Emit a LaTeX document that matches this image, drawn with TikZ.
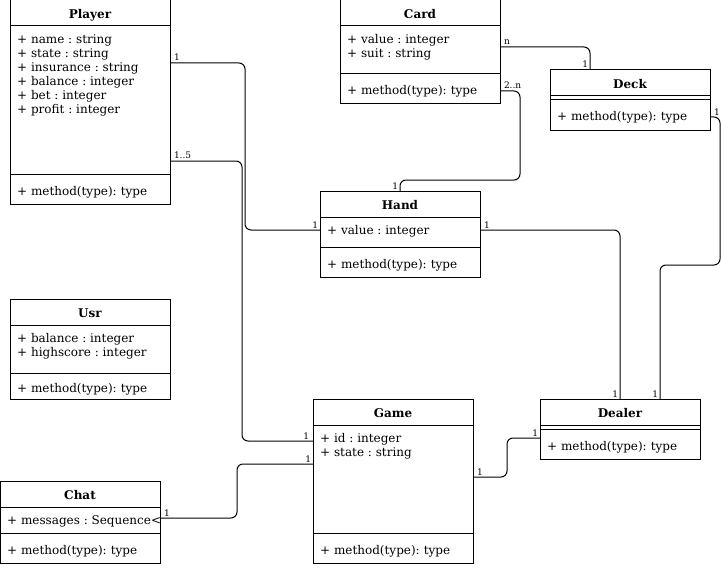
\documentclass[tikz,border=0pt]{standalone}
\usepackage{fontspec}
\setmainfont{DejaVu Serif}
\usepackage{tikz}
\usetikzlibrary{positioning, calc}
\frenchspacing

\begin{document}
\begin{tikzpicture}[
    x=1pt, y=-1pt,
    head/.style={draw, line width=1pt, minimum width=160pt, minimum height=26pt,
                 anchor=north west, inner sep=0pt, outer sep=0pt,
                 text height=12pt, text depth=1pt,
                 font=\fontsize{12}{14}\selectfont\bfseries},
    compart/.style={draw, line width=1pt, minimum width=160pt,
                    anchor=north west, inner sep=0pt, outer sep=0pt},
    fields/.style={anchor=north west, align=left, inner xsep=7pt, inner ysep=8pt,
                   font=\fontsize{12}{14}\selectfont},
    methods/.style={compart, minimum height=30pt, text width=146pt, inner xsep=7pt,
                    text height=13pt, text depth=1pt,
                    align=left, font=\fontsize{12}{14}\selectfont},
    assoc/.style={line width=1pt, rounded corners=6pt},
    mult/.style={font=\fontsize{9}{10}\selectfont, inner sep=1.5pt}
  ]
    \useasboundingbox (0,0) rectangle (722,567);

    % classes
    \node[head] (player) at (10,0) {Player};
    \node[compart, minimum height=148pt] (player-a) at (player.south west) {};
    \node[fields] (player-t) at (player-a.north west) {+ name : string\\+ state : string\\
      + insurance : string\\+ balance : integer\\+ bet : integer\\+ profit : integer};
    \node[methods] (player-m) at (player-a.south west) {+ method(type): type};

    \node[head] (card) at (340,0) {Card};
    \node[compart, minimum height=48pt] (card-a) at (card.south west) {};
    \node[fields] (card-t) at (card-a.north west) {+ value : integer\\+ suit : string};
    \node[methods] (card-m) at (card-a.south west) {+ method(type): type};

    \node[head] (deck) at (550,70) {Deck};
    \node[compart, minimum height=4pt] (deck-a) at (deck.south west) {};
    \node[methods] (deck-m) at (deck-a.south west) {+ method(type): type};

    \node[head] (hand) at (320,191) {Hand};
    \node[compart, minimum height=30pt] (hand-a) at (hand.south west) {};
    \node[fields] (hand-t) at (hand-a.north west) {+ value : integer};
    \node[methods] (hand-m) at (hand-a.south west) {+ method(type): type};

    \node[head] (usr) at (10,299) {Usr};
    \node[compart, minimum height=48pt] (usr-a) at (usr.south west) {};
    \node[fields] (usr-t) at (usr-a.north west) {+ balance : integer\\+ highscore : integer};
    \node[methods, minimum height=26pt] (usr-m) at (usr-a.south west) {+ method(type): type};

    \node[head] (chat) at (0,481) {Chat};
    \node[compart, minimum height=26pt] (chat-a) at (chat.south west) {};
    \node[fields] (chat-t) at (chat-a.north west) {+ messages : Sequence<};
    \node[methods] (chat-m) at (chat-a.south west) {+ method(type): type};

    \node[head] (game) at (313,399) {Game};
    \node[compart, minimum height=108pt] (game-a) at (game.south west) {};
    \node[fields] (game-t) at (game-a.north west) {+ id : integer\\+ state : string};
    \node[methods] (game-m) at (game-a.south west) {+ method(type): type};

    \node[head] (dealer) at (540,399) {Dealer};
    \node[compart, minimum height=4pt] (dealer-a) at (dealer.south west) {};
    \node[methods] (dealer-m) at (dealer-a.south west) {+ method(type): type};

    % associations
    \draw[assoc] (player-a.east |- 0,63) node[mult, anchor=south west, xshift=2pt] {1}
      -- (245,63) -- (245,230)
      -- (hand-a.west |- 0,230) node[mult, anchor=south east] {1};
    \draw[assoc] (player-a.east |- 0,161) node[mult, anchor=south west, xshift=2pt] {1..5}
      -- (242,161) -- (242,441)
      -- (game-a.west |- 0,441) node[mult, anchor=south east, xshift=-2pt] {1};
    \draw[assoc] (card-a.east |- 0,47) node[mult, anchor=south west, xshift=2pt] {n}
      -- (590,47) -- (deck.north -| 590,0) node[mult, anchor=south east] {1};
    \draw[assoc] (card-m.east |- 0,91) node[mult, anchor=south west, xshift=2pt] {2..n}
      -- (520,91) -- (520,180) -- (400,180)
      -- (hand.north) node[mult, anchor=south east] {1};
    \draw[assoc] (deck-m.east |- 0,117) node[mult, anchor=south west, xshift=2pt] {1}
      -- (720,117) -- (720,265) -- (660,265)
      -- (dealer.north -| 660,0) node[mult, anchor=south east] {1};
    \draw[assoc] (hand-a.east |- 0,230) node[mult, anchor=south west, xshift=2pt] {1}
      -- (620,230) -- (dealer.north -| 620,0) node[mult, anchor=south east] {1};
    \draw[assoc] (game-a.east |- 0,477) node[mult, anchor=south west, xshift=2pt] {1}
      -- (507,477) -- (507,438)
      -- (dealer-m.west |- 0,438) node[mult, anchor=south east] {1};
    \draw[assoc] (chat-a.east |- 0,518) node[mult, anchor=south west, xshift=2pt] {1}
      -- (237,518) -- (237,464)
      -- (game-a.west |- 0,464) node[mult, anchor=south east] {1};
  \end{tikzpicture}
\end{document}
